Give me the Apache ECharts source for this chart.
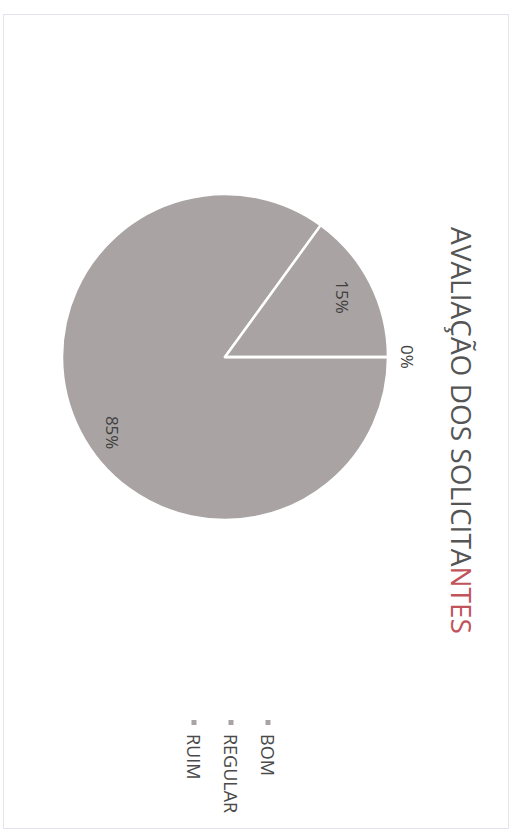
<!DOCTYPE html>
<html>
<head>
<meta charset="utf-8">
<script src="https://cdn.jsdelivr.net/npm/echarts@6/dist/echarts.min.js"></script>
<style>
  html, body { margin: 0; padding: 0; width: 512px; height: 833px; overflow: hidden; background: #ffffff; }
  #frame { position: absolute; left: 3px; top: 14px; width: 506px; height: 815px; border: 1px solid #e2e6ec; box-sizing: border-box; }
  #chart { position: absolute; left: 0; top: 0; width: 833px; height: 512px;
           transform-origin: 0 0; transform: translate(512px, 0) rotate(90deg); }
</style>
</head>
<body>
<div id="frame"></div>
<div id="chart"></div>
<script>
const categories = ['BOM', 'REGULAR', 'RUIM'];
const values = [85, 15, 0];
const titleMain = 'AVALIAÇÃO DOS SOLICITA';
const titleTail = 'NTES';

const FONT = 'Open Sans';
const SLICE = '#a9a4a3';
const CX = 357, CY = 287, R = 163;
const labelRatio = [0.83, 0.81, 1.12];
const labelAngleShift = [-7, 0, 0];

const total = values.reduce((a, b) => a + b, 0);
const midAngles = [];
let cum = 0;
values.forEach(v => { midAngles.push(2 * Math.PI * (cum + v / 2) / total); cum += v; });

const chart = echarts.init(document.getElementById('chart'), null, { renderer: 'svg' });
chart.setOption({
  backgroundColor: 'transparent',
  animation: false,
  title: {
    text: '{a|' + titleMain + '}{b|' + titleTail + '}',
    left: 222,
    top: 31,
    textStyle: {
      fontFamily: FONT, fontSize: 28, fontWeight: 'normal', color: '#555555',
      rich: {
        a: { fontFamily: FONT, fontSize: 28, color: '#555555' },
        b: { fontFamily: FONT, fontSize: 28, color: '#c0545a' }
      }
    }
  },
  legend: {
    orient: 'vertical',
    left: 713,
    top: 229,
    itemWidth: 7,
    itemHeight: 7,
    itemGap: 17,
    icon: 'rect',
    data: categories,
    textStyle: { fontFamily: FONT, fontSize: 18, color: '#4a4a4a', lineHeight: 20, padding: [0, 0, 0, 3] }
  },
  series: [{
    type: 'pie',
    center: [CX, CY],
    radius: [0, R],
    startAngle: 90,
    clockwise: true,
    stillShowZeroSum: true,
    color: [SLICE, SLICE, SLICE],
    itemStyle: { borderColor: '#ffffff', borderWidth: 2.5 },
    label: {
      show: true,
      position: 'inside',
      formatter: '{d}%',
      fontFamily: FONT,
      fontSize: 17,
      color: '#3f3f3f'
    },
    labelLine: { show: false },
    emphasis: { disabled: true },
    labelLayout: function (p) {
      const i = p.dataIndex;
      const a = midAngles[i] + labelAngleShift[i] * Math.PI / 180;
      const r = labelRatio[i] * R;
      return { x: CX + r * Math.sin(a), y: CY - r * Math.cos(a), align: 'center', verticalAlign: 'middle' };
    },
    data: categories.map((c, i) => ({ name: c, value: values[i] }))
  }]
});
</script>
</body>
</html>
